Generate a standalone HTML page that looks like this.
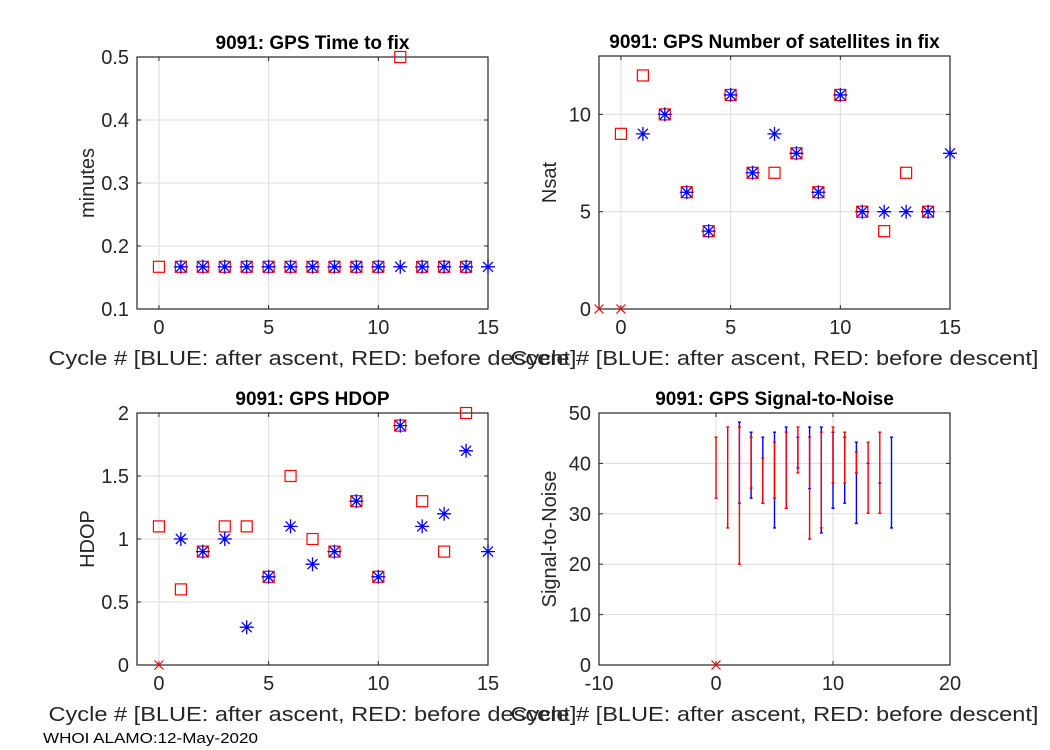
<!DOCTYPE html>
<html><head><meta charset="utf-8"><style>
html,body{margin:0;padding:0;background:#fff;}
svg{display:block;font-family:"Liberation Sans",Arial,sans-serif;}
</style></head><body>
<svg id="fig" width="1050" height="750" viewBox="0 0 1050 750" xmlns="http://www.w3.org/2000/svg"></svg>
<script>
// ---- data ----
const cycBlue = [1,2,3,4,5,6,7,8,9,10,11,12,13,14,15];
const cycRed = [0,1,2,3,4,5,6,7,8,9,10,11,12,13,14];
const ttfBlue = [0.167,0.167,0.167,0.167,0.167,0.167,0.167,0.167,0.167,0.167,0.167,0.167,0.167,0.167,0.167];
const ttfRed = [0.167,0.167,0.167,0.167,0.167,0.167,0.167,0.167,0.167,0.167,0.167,0.5,0.167,0.167,0.167];
const nsatBlue = [9,10,6,4,11,7,9,8,6,11,5,5,5,5,8];
const nsatRed = [9,12,10,6,4,11,7,7,8,6,11,5,4,7,5];
const nsatFailX = [-1,0];
const nsatFailY = [0,0];
const hdopBlue = [1,0.9,1,0.3,0.7,1.1,0.8,0.9,1.3,0.7,1.9,1.1,1.2,1.7,0.9];
const hdopRed = [1.1,0.6,0.9,1.1,1.1,0.7,1.5,1.0,0.9,1.3,0.7,1.9,1.3,0.9,2.0];
const hdopFailX = [0];
const hdopFailY = [0];
const snrBlueX = [2,3,4,5,6,7,8,9,10,11,12,13,14,15];
const snrBlueMax = [48.2,46.2,45.2,46.2,47.2,45.2,47.2,47.2,46.2,45.2,44.2,40,36.1,45.2];
const snrBlueMin = [32.1,33.1,32.1,27.2,31.1,39.1,35,26.2,31.1,32.1,28.1,40,36.1,27.2];
const snrRedX = [0,1,2,3,4,5,6,7,8,9,10,11,12,13,14];
const snrRedMax = [45.2,47.2,47.2,45.2,41,44.2,46.2,47.2,45.2,46.2,47.2,46.2,42.3,44.2,46.2];
const snrRedMin = [33.1,27.2,20,35.1,32.1,33.1,31.1,38.1,25,27.2,36.1,36.1,38.1,30.1,30.1];
const snrFailX = [0];
const snrFailY = [0];
const xticksA = [0,5,10,15];
const ttfTicks = ["0.1","0.2","0.3","0.4","0.5"];
const nsatTicks = ["0","5","10"];
const hdopTicks = ["0","0.5","1","1.5","2"];
const snrYTicks = ["0","10","20","30","40","50"];
const snrXTicks = ["-10","0","10","20"];

const NS="http://www.w3.org/2000/svg";
const svg=document.getElementById('fig');
function el(tag,attrs,parent){const e=document.createElementNS(NS,tag);for(const k in attrs)e.setAttribute(k,attrs[k]);(parent||svg).appendChild(e);return e;}
const XL="Cycle #  [BLUE: after ascent, RED: before descent]";

function makeAxes(name,L,T,R,B,xmin,xmax,ymin,ymax,xt,yt,title,ylabel){
  const g=el('g',{});
  
  
  const sx=v=>L+(v-xmin)/(xmax-xmin)*(R-L);
  const sy=v=>B-(v-ymin)/(ymax-ymin)*(B-T);
  el('rect',{x:L,y:T,width:R-L,height:B-T,fill:'#fff'},g);
  xt.forEach(t=>{const v=parseFloat(t);const x=sx(v);
    const gl=el('line',{x1:x,x2:x,y1:T,y2:B,stroke:'#dcdcdc','stroke-width':1},g);
    
    el('line',{x1:x,x2:x,y1:B,y2:B-4,stroke:'#262626'},g);el('line',{x1:x,x2:x,y1:T,y2:T+4,stroke:'#262626'},g);
    const tx=el('text',{x:x,y:B+25,'font-size':20,'text-anchor':'middle',fill:'#262626'},g);tx.textContent=t;
    });
  yt.forEach(t=>{const v=parseFloat(t);const y=sy(v);
    const gl=el('line',{x1:L,x2:R,y1:y,y2:y,stroke:'#dcdcdc','stroke-width':1},g);
    
    el('line',{x1:L,x2:L+4,y1:y,y2:y,stroke:'#262626'},g);el('line',{x1:R,x2:R-4,y1:y,y2:y,stroke:'#262626'},g);
    const tx=el('text',{x:L-8,y:y+7,'font-size':20,'text-anchor':'end',fill:'#262626'},g);tx.textContent=t;
    });
  el('rect',{x:L,y:T,width:R-L,height:B-T,fill:'none',stroke:'#262626','stroke-width':1.2},g);
  const ti=el('text',{x:(L+R)/2,y:T-8,'font-size':19,'font-weight':'bold','text-anchor':'middle',fill:'#000'},g);ti.textContent=title;
  
  const xl=el('text',{x:(L+R)/2,y:B+56,'font-size':20,'text-anchor':'middle',fill:'#262626',textLength:528,lengthAdjust:'spacingAndGlyphs'},g);xl.textContent=XL;
  
  const yc=(T+B)/2;const yx=L-43;
  const yl=el('text',{x:yx,y:yc,'font-size':20,'text-anchor':'middle',fill:'#262626',transform:`rotate(-90 ${yx} ${yc})`},g);yl.textContent=ylabel;
  
  return {g,sx,sy};
}
function square(ax,x,y){const s=11;const r=el('rect',{x:ax.sx(x)-s/2,y:ax.sy(y)-s/2,width:s,height:s,fill:'none',stroke:'#ff0000','stroke-width':1.2},ax.g);
  }
function star(ax,x,y){const cx=ax.sx(x),cy=ax.sy(y),s=7,d=5;
  const p=el('path',{d:`M${cx-s},${cy}H${cx+s}M${cx},${cy-s}V${cy+s}M${cx-d},${cy-d}L${cx+d},${cy+d}M${cx-d},${cy+d}L${cx+d},${cy-d}`,stroke:'#0000ff','stroke-width':1.3,fill:'none'},ax.g);
  }
function cross(ax,x,y){const cx=ax.sx(x),cy=ax.sy(y),d=4.5;
  const p=el('path',{d:`M${cx-d},${cy-d}L${cx+d},${cy+d}M${cx-d},${cy+d}L${cx+d},${cy-d}`,stroke:'#ff0000','stroke-width':1.2},ax.g);
  }
function ebar(ax,x,lo,hi,col){const X=ax.sx(x),Y1=ax.sy(lo),Y2=ax.sy(hi);
  const p=el('path',{d:`M${X},${Y1}V${Y2}M${X-1.5},${Y1}H${X+1.5}M${X-1.5},${Y2}H${X+1.5}`,stroke:col,'stroke-width':1.4},ax.g);
  }

const a1=makeAxes('time-to-fix-chart',137,57,488,309,-1,15,0.1,0.5,xticksA.map(String),ttfTicks,'9091: GPS Time to fix','minutes');
cycRed.forEach((c,i)=>square(a1,c,ttfRed[i]));cycBlue.forEach((c,i)=>star(a1,c,ttfBlue[i]));

const a2=makeAxes('nsat-chart',599,56,950,309,-1,15,0,13,xticksA.map(String),nsatTicks,'9091: GPS Number of satellites in fix','Nsat');
cycRed.forEach((c,i)=>square(a2,c,nsatRed[i]));cycBlue.forEach((c,i)=>star(a2,c,nsatBlue[i]));
nsatFailX.forEach((c,i)=>cross(a2,c,nsatFailY[i]));

const a3=makeAxes('hdop-chart',137,413,488,665,-1,15,0,2,xticksA.map(String),hdopTicks,'9091: GPS HDOP','HDOP');
cycRed.forEach((c,i)=>square(a3,c,hdopRed[i]));cycBlue.forEach((c,i)=>star(a3,c,hdopBlue[i]));
hdopFailX.forEach((c,i)=>cross(a3,c,hdopFailY[i]));

const a4=makeAxes('snr-chart',599,413,950,665,-10,20,0,50,snrXTicks,snrYTicks,'9091: GPS Signal-to-Noise','Signal-to-Noise');
snrBlueX.forEach((c,i)=>ebar(a4,c,snrBlueMin[i],snrBlueMax[i],'#0000ff'));
snrRedX.forEach((c,i)=>ebar(a4,c,snrRedMin[i],snrRedMax[i],'#ff0000'));
snrFailX.forEach((c,i)=>cross(a4,c,snrFailY[i]));

const ft=el('text',{x:43,y:743,'font-size':15,fill:'#000',textLength:215,lengthAdjust:'spacingAndGlyphs'});
ft.textContent='WHOI ALAMO:12-May-2020';


</script>
</body></html>
